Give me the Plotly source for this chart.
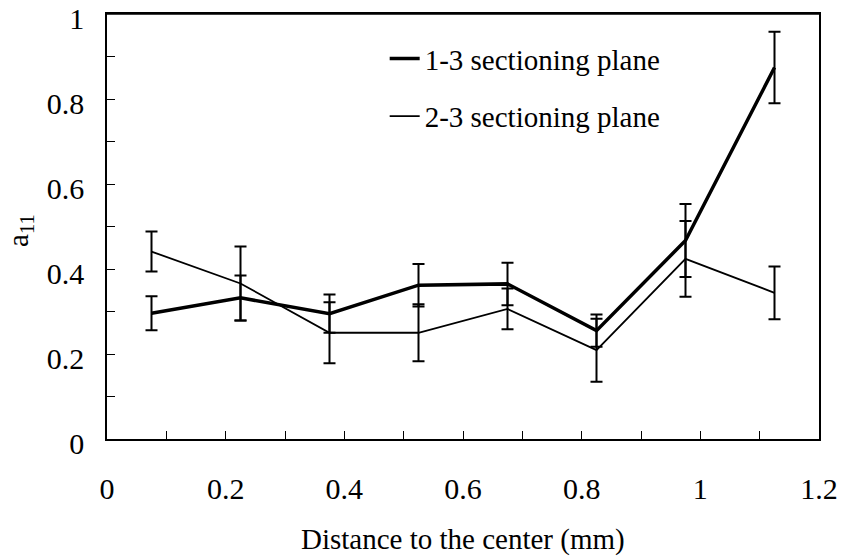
import plotly.graph_objects as go

distance = [0.075, 0.225, 0.375, 0.525, 0.675, 0.825, 0.975, 1.125]
plane13 = [0.296, 0.332, 0.295, 0.362, 0.365, 0.255, 0.467, 0.874]
plane13_err = [0.040, 0.053, 0.045, 0.050, 0.050, 0.038, 0.086, 0.084]
plane23 = [0.441, 0.366, 0.250, 0.250, 0.306, 0.209, 0.424, 0.344]
plane23_err = [0.047, 0.087, 0.072, 0.067, 0.048, 0.074, 0.089, 0.062]
names = ["1-3 sectioning plane", "2-3 sectioning plane"]

FONT = "Liberation Serif"

fig = go.Figure()
fig.add_trace(go.Scatter(
    x=distance, y=plane23, mode="lines", showlegend=False,
    line=dict(color="black", width=1.8),
    error_y=dict(type="data", array=plane23_err, color="black", thickness=2, width=6)))
fig.add_trace(go.Scatter(
    x=distance, y=plane13, mode="lines", showlegend=False,
    line=dict(color="black", width=3.5),
    error_y=dict(type="data", array=plane13_err, color="black", thickness=2, width=6)))
# legend entries
fig.add_trace(go.Scatter(x=[None], y=[None], mode="lines", name=names[0],
                         legendgroup="a", line=dict(color="black", width=3.5)))
fig.add_trace(go.Scatter(x=[None], y=[None], mode="lines", name=names[1],
                         legendgroup="b", line=dict(color="black", width=1.8)))

axis_common = dict(
    showgrid=False, zeroline=False, showline=True, linecolor="black", linewidth=1.5,
    mirror=True, ticks="inside", ticklen=8, tickcolor="black", tickwidth=1.2,
    tickfont=dict(family=FONT, size=30, color="black"), automargin=False,
    ticklabeloverflow="allow",
    minor=dict(dtick=0.1, ticks="inside", ticklen=8, tickcolor="black", tickwidth=1.2),
)
fig.update_xaxes(range=[0, 1.2], dtick=0.2, tick0=0, ticklabelstandoff=22, **axis_common)
fig.update_yaxes(range=[0, 1], dtick=0.2, tick0=0, ticklabelstandoff=15,
                 ticklabelshift=4, **axis_common)

fig.update_layout(
    width=858, height=559,
    margin=dict(l=107, r=39, t=14, b=120),
    paper_bgcolor="white", plot_bgcolor="white",
    font=dict(family=FONT, size=30, color="black"),
    legend=dict(x=0.39, y=0.955, xanchor="left", yanchor="top",
                font=dict(family=FONT, size=29, color="black"),
                bgcolor="rgba(0,0,0,0)", traceorder="grouped", tracegroupgap=17),
    shapes=[dict(type="line", xref="paper", yref="paper", x0=0, x1=1, y0=1, y1=1,
                 line=dict(color="black", width=1.5))],
    annotations=[
        dict(text="Distance to the center (mm)", xref="paper", yref="paper",
             x=0.5, y=-0.237, xanchor="center", yanchor="middle", showarrow=False,
             font=dict(family=FONT, size=29, color="black")),
        dict(text="a<sub>11</sub>", xref="paper", yref="paper",
             x=-0.122, y=0.49, xanchor="center", yanchor="middle", showarrow=False,
             textangle=-90, font=dict(family=FONT, size=29, color="black")),
    ],
)

fig.write_html("out.html")
